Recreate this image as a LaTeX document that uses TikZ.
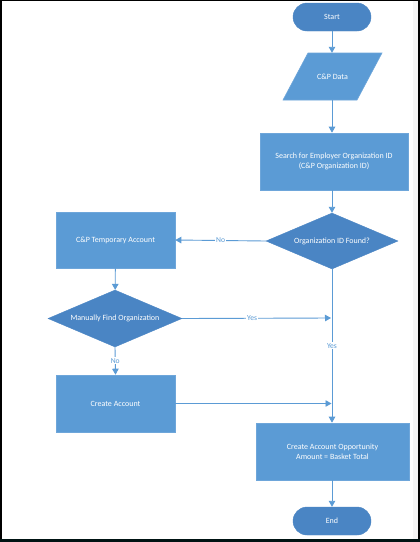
\documentclass[tikz,border=0pt]{standalone}
\usepackage{fontspec}
\setmainfont{Carlito}
\usetikzlibrary{shapes.geometric,arrows.meta}
\definecolor{boxblue}{HTML}{5B9BD5}
\definecolor{darkblue}{HTML}{4A85C4}
\definecolor{lineblue}{HTML}{5B9BD5}
\definecolor{edgeblue}{HTML}{6EA6DA}
\begin{document}
\begin{tikzpicture}[x=1pt,y=-1pt,
  base/.style={text=white,font=\fontsize{8}{9.6}\selectfont,align=center,inner sep=0pt},
  procbox/.style={base,rectangle,fill=boxblue,draw=edgeblue,line width=0.6pt},
  pill/.style={base,rectangle,rounded corners=14pt,fill=darkblue,draw=darkblue,minimum width=78pt,minimum height=28pt},
  decision/.style={base,diamond,fill=darkblue,draw=darkblue,shape aspect=2.4},
  iolabel/.style={base,rectangle,minimum width=99pt,minimum height=47pt},
  conn/.style={draw=lineblue,line width=0.9pt},
  arr/.style={conn,-{Triangle[width=6.5pt,length=6pt]}},
  lbl/.style={fill=white,text=lineblue,font=\fontsize{7.6}{9}\selectfont,inner sep=1pt}
]
\useasboundingbox (0,0) rectangle (420,542);
\fill[white] (0,0) rectangle (420,542);
% frame
\fill[black!4] (413,0) rectangle (418,542);
\fill[black] (0,0) rectangle (420,1.2);
\fill[black] (0,0) rectangle (1.5,542);
\fill[black] (418,0) rectangle (420,542);
\fill[black!85!teal] (0,538.5) rectangle (420,542);

\node[pill] (start) at (332,17) {Start};
% parallelogram (input/output)
\filldraw[fill=boxblue,draw=edgeblue,line width=0.6pt] (308,53) -- (382,53) -- (357,100) -- (283,100) -- cycle;
\node[iolabel] (data) at (332.5,76.5) {C\&P Data};
\node[procbox,minimum width=148pt,minimum height=57pt] (search) at (334,161.5) {Search for Employer Organization ID\\(C\&P Organization ID)};
\node[decision,minimum width=132pt,minimum height=56pt] (found) at (332,241) {Organization ID Found?};
\node[procbox,minimum width=119pt,minimum height=56pt] (temp) at (115.5,240) {C\&P Temporary Account};
\node[decision,minimum width=134pt,minimum height=57pt] (manual) at (115,318.5) {Manually Find Organization};
\node[procbox,minimum width=119pt,minimum height=57pt] (create) at (115.5,403.5) {Create Account};
\node[procbox,minimum width=153pt,minimum height=57pt] (opp) at (332.5,451.5) {Create Account Opportunity\\Amount = Basket Total};
\node[pill] (end) at (332,521) {End};

\coordinate (j1) at (332,318);
\coordinate (j2) at (332,403.5);

\draw[arr] (start) -- (data.north -| start);
\draw[arr] (data.south -| start) -- (search.north -| start);
\draw[arr] (search.south -| start) -- (found);
\draw[arr] (found.west) -- node[lbl] {No} (temp.east);
\draw[arr] (temp) -- (manual);
\draw[arr] (manual.east) -- node[lbl,pos=0.47] {Yes} ([xshift=-1pt]j1);
\draw[arr] (manual.south) -- node[lbl] {No} (create.north);
\draw[arr] (found.south) -- node[lbl,pos=0.5] {Yes} (opp.north -| found);
\draw[arr] (create.east) -- ([xshift=-0.5pt]j2);
\draw[arr] (opp.south -| end) -- (end);
\end{tikzpicture}
\end{document}
